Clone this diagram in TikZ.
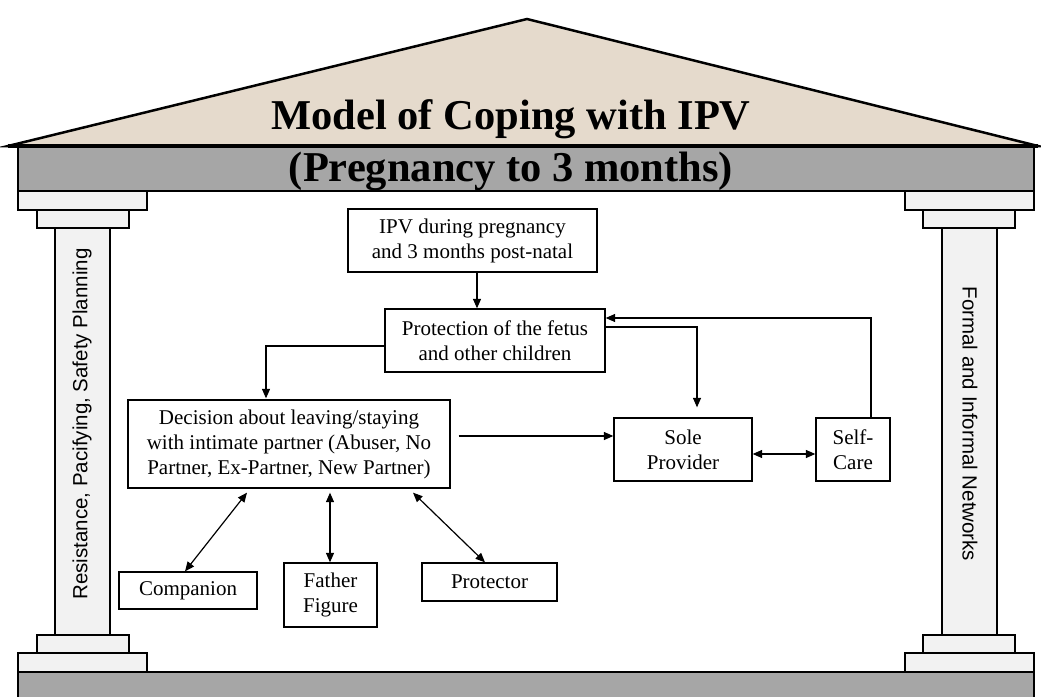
\documentclass[tikz,border=0pt]{standalone}
\usepackage{fontspec}
\setmainfont{Liberation Serif}
\newfontfamily\pillarfont{Liberation Sans}
\usetikzlibrary{arrows.meta}
\definecolor{roofbeige}{RGB}{229,218,204}
\definecolor{stonegray}{RGB}{166,166,166}
\definecolor{pillarwhite}{RGB}{242,242,242}
\tikzset{
  box/.style={draw=black, line width=1.3pt, fill=white, inner sep=0pt, align=center,
    font=\fontsize{21}{25}\selectfont},
  tip/.tip={Triangle[length=9.5pt,width=8pt]},
  arr/.style={line width=1.2pt, -tip},
  darr/.style={line width=1.2pt, tip-tip},
  stone/.style={draw=black, line width=2.5pt, fill=pillarwhite},
  slab/.style={draw=black, line width=2pt, fill=stonegray},
  pillartext/.style={font=\pillarfont\fontsize{20.5}{24}\selectfont},
  headline/.style={anchor=base, inner sep=0pt, font=\bfseries\fontsize{42.5}{46}\selectfont},
}
\begin{document}
\begin{tikzpicture}[x=1pt,y=-1pt]
\useasboundingbox (0,0) rectangle (1041,696);

% roof
\draw[line width=2.5pt, fill=roofbeige, line join=miter] (8,146) -- (527,19) -- (1038,146) -- cycle;
% entablature band
\draw[slab] (18,147) rectangle (1034,191);
\draw[line width=4pt] (8,146) -- (1038,146);

% base
\draw[slab] (18,672) rectangle (1034,705);

% left pillar
\draw[stone] (55,228) rectangle (110,635);
\draw[stone] (18,191) rectangle (147,210);
\draw[stone] (37,210) rectangle (129,228);
\draw[stone] (37,635) rectangle (129,653);
\draw[stone] (18,653) rectangle (147,672);
% right pillar
\draw[stone] (942,228) rectangle (997,635);
\draw[stone] (905,191) rectangle (1034,210);
\draw[stone] (923,210) rectangle (1015,228);
\draw[stone] (923,635) rectangle (1015,653);
\draw[stone] (905,653) rectangle (1034,672);

% titles
\node[headline] (title) at (511,129) {Model of Coping with IPV};
\node[headline] (subtitle) at (511,181) {(Pregnancy to 3 months)};

% pillar labels
\node[pillartext, rotate=90] (leftlabel) at (82,424) {Resistance, Pacifying, Safety Planning};
\node[pillartext, rotate=-90] (rightlabel) at (970,424) {Formal and Informal Networks};

% flow boxes
\node[box, minimum width=249pt, minimum height=63pt] (ipv) at (472.5,240.5) {IPV during pregnancy\\and 3 months post-natal};
\node[box, minimum width=220pt, minimum height=63pt] (prot) at (495,340.5) {Protection of the fetus\\and other children};
\node[box, minimum width=322pt, minimum height=88pt] (dec) at (289,444) {Decision about leaving/staying\\with intimate partner (Abuser, No\\Partner, Ex-Partner, New Partner)};
\node[box, minimum width=138pt, minimum height=63pt] (sole) at (683,449.5) {Sole\\Provider};
\node[box, minimum width=74pt, minimum height=63pt] (self) at (853,449.5) {Self-\\Care};
\node[box, minimum width=138pt, minimum height=37pt] (comp) at (188,590.5) {Companion};
\node[box, minimum width=93pt, minimum height=64pt] (father) at (330.5,595) {Father\\Figure};
\node[box, minimum width=135pt, minimum height=38pt] (protector) at (489.5,582) {Protector};

% connectors
\draw[arr] ([xshift=4.5pt]ipv.south) -- ([xshift=4.5pt]ipv.south |- prot.north);
\draw[arr] ([yshift=-5.5pt]prot.west) -| ([xshift=-23pt,yshift=1pt]dec.north);
\draw[arr] ([yshift=13.5pt]prot.east) -| ([xshift=14pt,yshift=10pt]sole.north);
\draw[arr] ([xshift=18pt]self.north) |- ([yshift=22.5pt]prot.east);
\draw[arr] ([xshift=8pt,yshift=8pt]dec.east) -- ([yshift=13.5pt]sole.west);
\draw[darr] ([yshift=-4.5pt]sole.east) -- ([yshift=-4.5pt]self.west);
\draw[darr] ([xshift=-42pt,yshift=-4pt]dec.south) -- ([xshift=-3pt]comp.north);
\draw[darr] ([xshift=41pt,yshift=-4pt]dec.south) -- ([xshift=-0.5pt]father.north);
\draw[darr] ([xshift=124pt,yshift=-4pt]dec.south) -- ([xshift=-4.5pt]protector.north);
\end{tikzpicture}
\end{document}
